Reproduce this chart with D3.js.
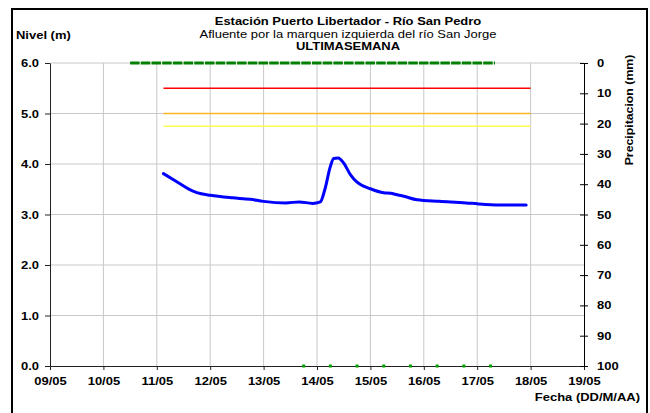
<!DOCTYPE html>
<html>
<head>
<meta charset="utf-8">
<script src="https://cdn.jsdelivr.net/npm/d3@7"></script>
<style>
  body { margin: 0; background: #fff; }
  svg { display: block; font-family: "Liberation Sans", Arial, sans-serif; }
</style>
</head>
<body>
<svg id="chart" width="650" height="413"></svg>
<script>
// ---- Data ----
const xDomain = ["09/05 00:00", "19/05 00:00"];
const dayTicks = ["09/05","10/05","11/05","12/05","13/05","14/05","15/05","16/05","17/05","18/05","19/05"];
const levelTicks = [0, 1, 2, 3, 4, 5, 6];
const precipTicks = [0, 10, 20, 30, 40, 50, 60, 70, 80, 90, 100];

const levelTimes = ["11/05 03:00","11/05 09:00","11/05 16:00","11/05 20:00","12/05 00:00","12/05 10:00","12/05 18:00",
  "13/05 00:00","13/05 10:00","13/05 16:00","13/05 22:00","14/05 01:30","14/05 03:30","14/05 06:00","14/05 07:30",
  "14/05 09:30","14/05 12:00","14/05 15:00","14/05 18:00","15/05 00:00","15/05 06:00","15/05 09:00","15/05 12:00",
  "15/05 15:00","15/05 21:00","16/05 07:00","16/05 19:00","17/05 00:30","17/05 10:00","17/05 22:00"];
const levelValues = [3.81,3.65,3.47,3.41,3.38,3.33,3.30,
  3.26,3.23,3.25,3.22,3.25,3.49,3.95,4.11,
  4.12,4.02,3.79,3.64,3.51,3.43,3.42,3.39,
  3.36,3.29,3.26,3.23,3.21,3.19,3.19];

const thresholdNames = ["roja", "naranja", "amarilla"];
const thresholdValues = [5.5, 5.0, 4.75];
const thresholdColors = ["#ff0000", "#ffb428", "#ffff50"];
const thresholdSpan = ["11/05 03:00", "18/05 00:00"];

const precipTimes = ["10/05 12:00", "17/05 08:00"];
const precipValues = [0, 0];

const dotTimes = ["13/05 18:00","14/05 06:00","14/05 18:00","15/05 06:00","15/05 18:00","16/05 06:00","16/05 18:00","17/05 06:00"];
const dotValues = [0,0,0,0,0,0,0,0];

// ---- Setup ----
const parse = d3.timeParse("%d/%m %H:%M");
const parseDay = d3.timeParse("%d/%m");
const svg = d3.select("#chart");
const L = 50, R = 584, T = 63, B = 366;
const SX = 1.18; // horizontal stretch of the reference's lettering

const x = d3.scaleTime().domain(xDomain.map(parse)).range([L, R]);
const y = d3.scaleLinear().domain([0, 6]).range([B, T]);
const yP = d3.scaleLinear().domain([0, 100]).range([T, B]);

// stretch text horizontally around its anchor point
function stretch(sel) {
  sel.each(function () {
    const t = d3.select(this);
    const tx = +t.attr("x") || 0, ty = +t.attr("y") || 0;
    t.attr("x", 0).attr("y", 0).attr("transform", `translate(${tx},${ty}) scale(${SX},1)`);
  });
}

// frame
svg.append("rect").attr("x", 12).attr("y", 9).attr("width", 635).attr("height", 412)
  .attr("fill", "none").attr("stroke", "#000").attr("stroke-width", 2);

// grid
const grid = svg.append("g");
grid.selectAll(".vg").data(dayTicks.slice(1, -1)).join("line")
  .attr("x1", d => x(parseDay(d))).attr("x2", d => x(parseDay(d)))
  .attr("y1", T).attr("y2", B).attr("stroke", "#c8c8c8").attr("stroke-width", 1);
grid.selectAll(".hg").data(levelTicks.slice(1)).join("line")
  .attr("x1", L).attr("x2", R).attr("y1", d => y(d)).attr("y2", d => y(d))
  .attr("stroke", "#c8c8c8").attr("stroke-width", 1);

// axes
const tickFont = g => g.selectAll("text").attr("font-size", 11).attr("font-weight", "bold")
  .attr("fill", "#000").attr("font-family", "Liberation Sans, Arial, sans-serif").call(stretch);

const leftAx = svg.append("g").attr("transform", `translate(${L},0)`)
  .call(d3.axisLeft(y).tickValues(levelTicks).tickFormat(d3.format(".1f")).tickSize(5).tickPadding(6).tickSizeOuter(0));
leftAx.call(tickFont);
leftAx.selectAll("line,path").attr("stroke", "#222");

const bottomAx = svg.append("g").attr("transform", `translate(0,${B})`)
  .call(d3.axisBottom(x).tickValues(dayTicks.map(parseDay)).tickFormat(d3.timeFormat("%d/%m")).tickSize(4).tickPadding(7).tickSizeOuter(0));
bottomAx.call(tickFont);
bottomAx.selectAll("line,path").attr("stroke", "#222");

const rightAx = svg.append("g").attr("transform", `translate(${R},0)`)
  .call(d3.axisRight(yP).tickValues(precipTicks).tickSize(4).tickPadding(9).tickSizeOuter(0));
rightAx.call(tickFont);
rightAx.selectAll(".tick line").attr("x1", -4).attr("x2", 4);
rightAx.selectAll("line,path").attr("stroke", "#000");

// thresholds
svg.append("g").selectAll("line").data(thresholdValues).join("line")
  .attr("x1", x(parse(thresholdSpan[0]))).attr("x2", x(parse(thresholdSpan[1])))
  .attr("y1", d => y(d)).attr("y2", d => y(d))
  .attr("stroke", (d, i) => thresholdColors[i]).attr("stroke-width", 1.5);

// precipitation (top, 0 mm)
const precip = precipTimes.map((t, i) => ({ t: parse(t), v: precipValues[i] }));
svg.append("path").datum(precip)
  .attr("d", d3.line().x(d => x(d.t)).y(d => yP(d.v)))
  .attr("stroke", "#008000").attr("stroke-width", 3).attr("fill", "none")
  .attr("stroke-dasharray", "9.5,1.2");

// dots at bottom
svg.append("g").selectAll("rect").data(dotTimes.map((t, i) => ({ t: parse(t), v: dotValues[i] }))).join("rect")
  .attr("x", d => x(d.t) - 1.5).attr("y", d => y(d.v) - 1.5).attr("width", 3).attr("height", 3)
  .attr("fill", "#00a000");

// level line
const level = levelTimes.map((t, i) => ({ t: parse(t), v: levelValues[i] }));
svg.append("path").datum(level)
  .attr("d", d3.line().x(d => x(d.t)).y(d => y(d.v)).curve(d3.curveMonotoneX))
  .attr("stroke", "#0000ff").attr("stroke-width", 3).attr("fill", "none")
  .attr("stroke-linecap", "round");

// titles
const txt = (s, xx, yy, opts = {}) => svg.append("text").text(s).attr("x", xx).attr("y", yy)
  .attr("font-size", opts.size || 11).attr("font-weight", opts.bold ? "bold" : "normal")
  .attr("text-anchor", opts.anchor || "middle").attr("fill", "#000").call(stretch);
txt("Estación Puerto Libertador - Río San Pedro", 348, 25, { bold: true });
txt("Afluente por la marquen izquierda del río San Jorge", 348, 38);
txt("ULTIMASEMANA", 348, 50, { bold: true });
txt("Nivel (m)", 16, 39, { bold: true, anchor: "start" });
txt("Fecha (DD/M/AA)", 640, 401, { bold: true, anchor: "end" });
svg.append("text").text("Precipitacion (mm)")
  .attr("transform", `translate(633,110) rotate(-90) scale(1.12,1)`)
  .attr("font-size", 11).attr("font-weight", "bold").attr("text-anchor", "middle");
</script>
</body>
</html>
